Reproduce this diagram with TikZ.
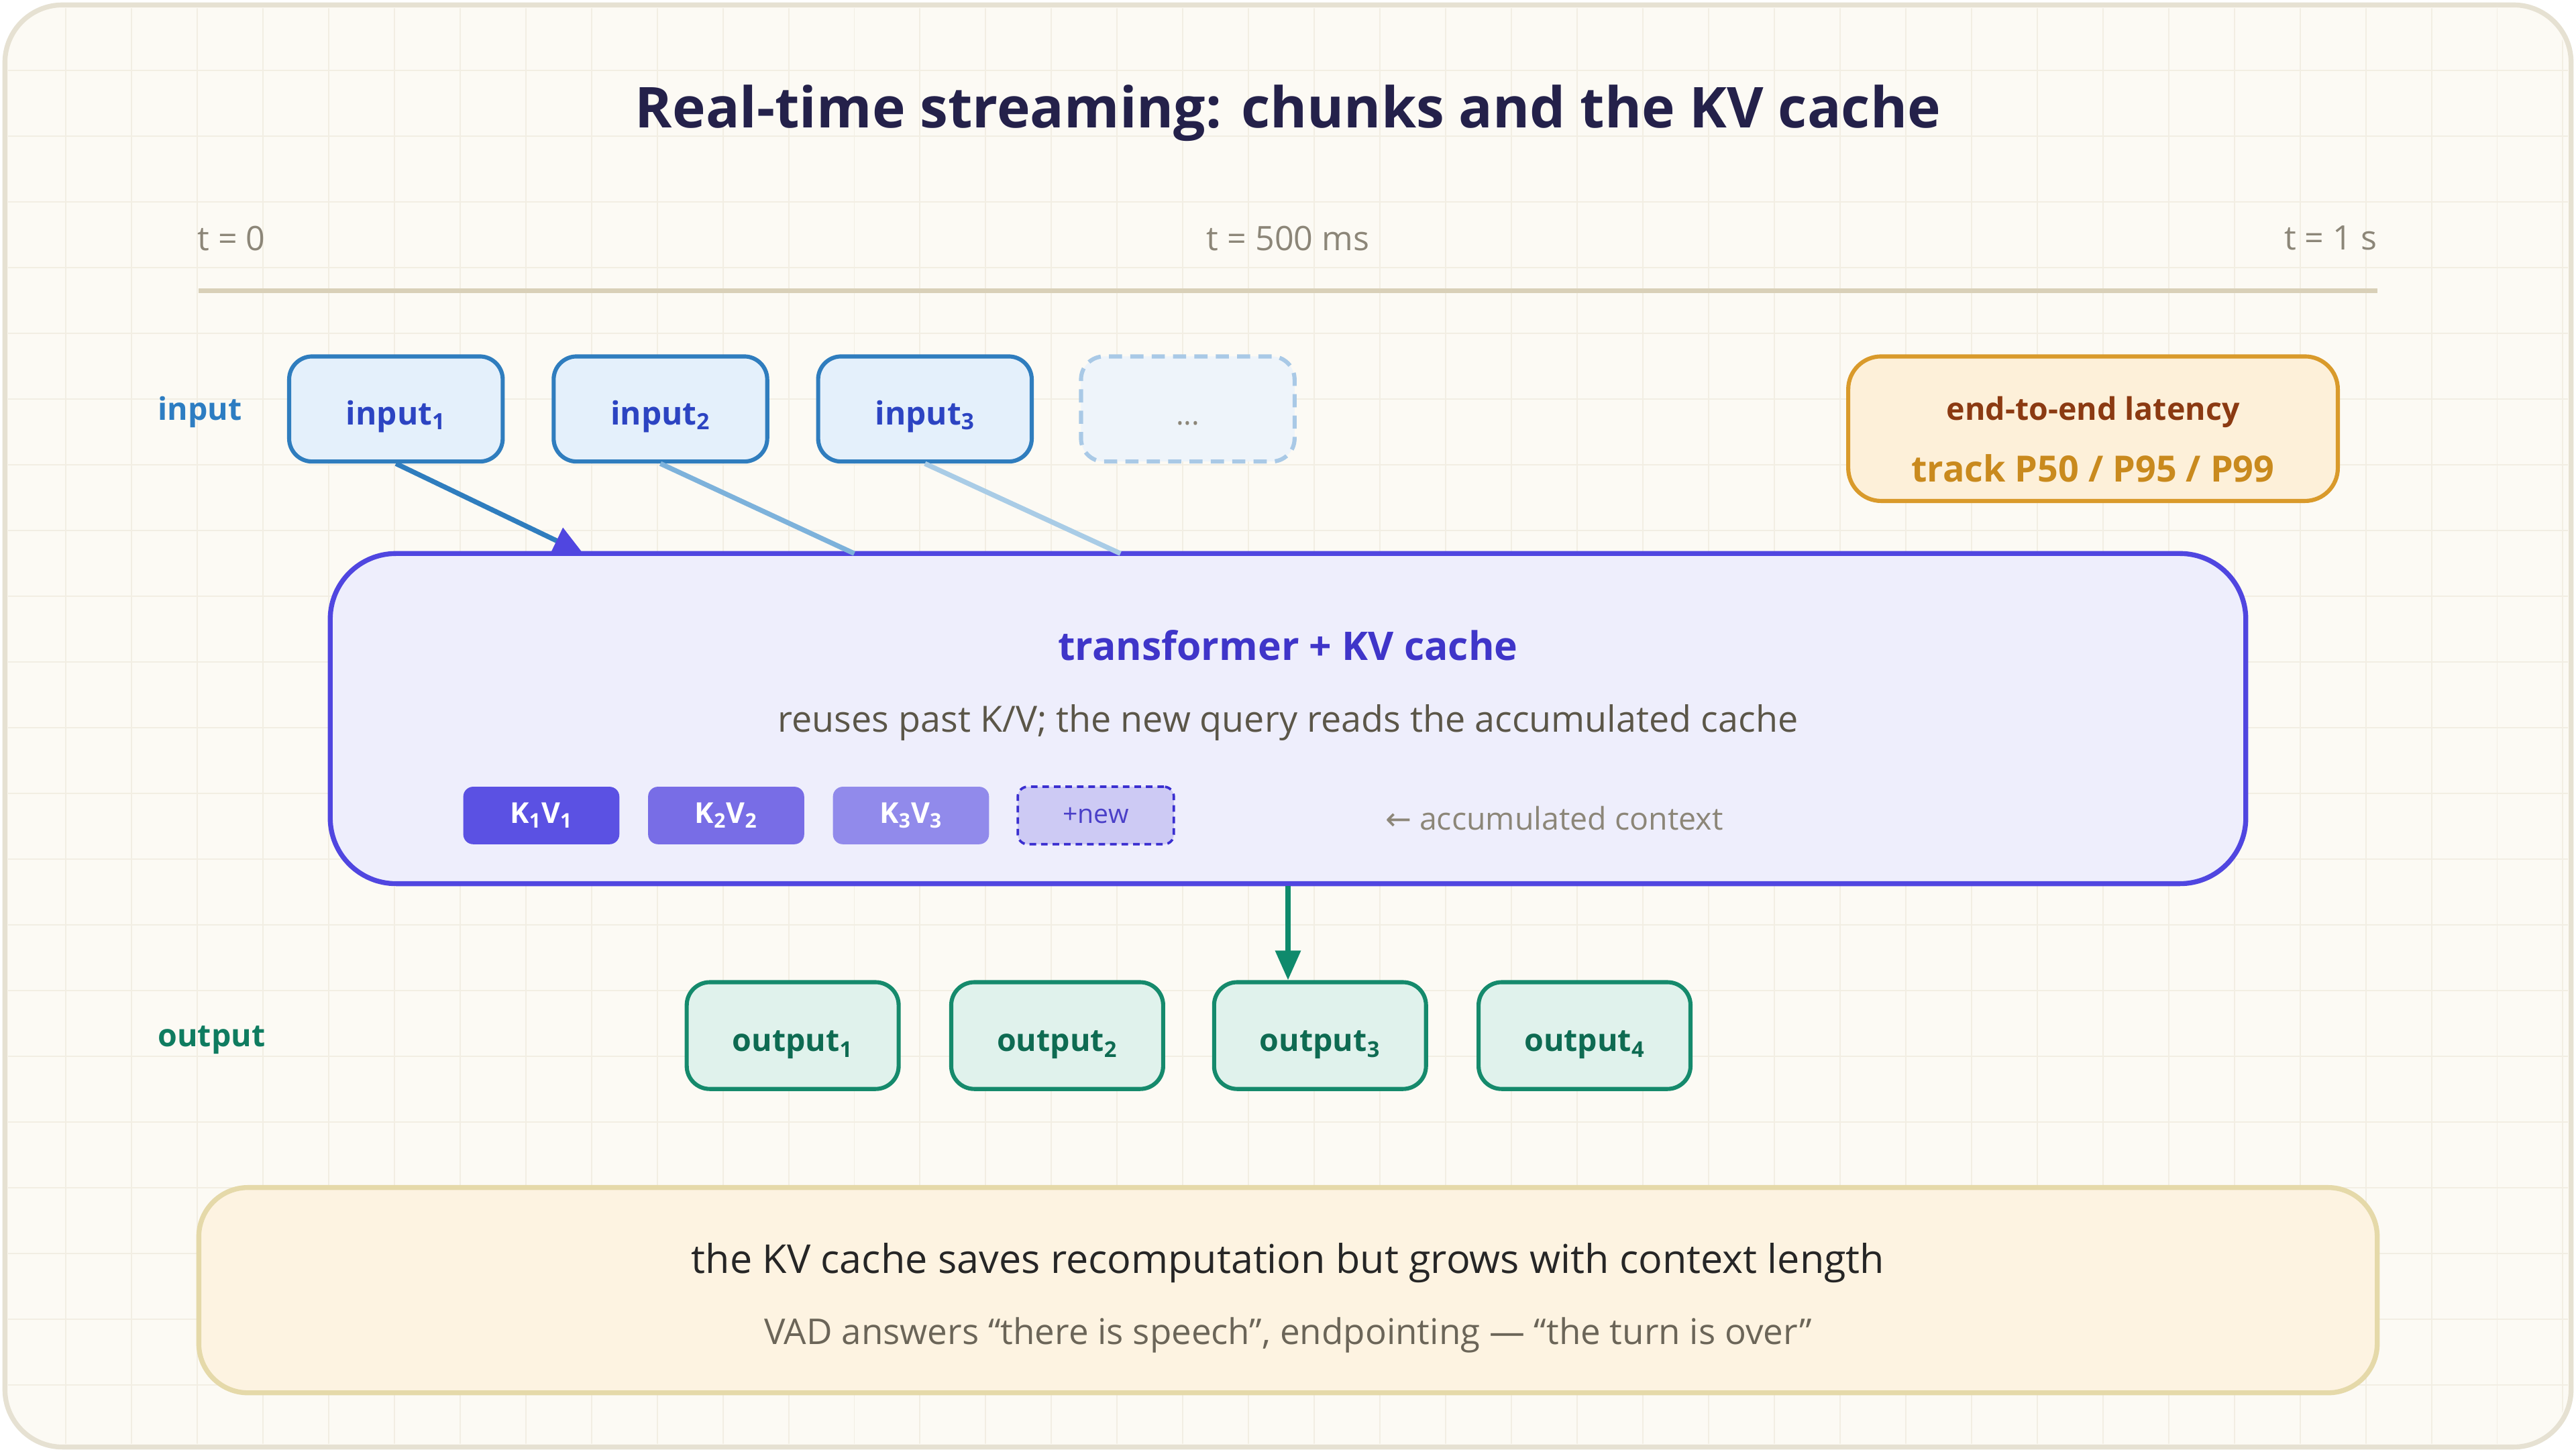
\documentclass[tikz,border=0pt]{standalone}
\usepackage{fontspec}
\setmainfont{Open Sans}
\newfontfamily\arrowfont{DejaVu Sans}
\usetikzlibrary{arrows.meta}
\newcommand\fsz[1]{\fontsize{#1}{#1}\selectfont}
\definecolor{framefill}{HTML}{FCFAF4}
\definecolor{frameline}{HTML}{E6E1D2}
\definecolor{gridline}{HTML}{F2EEE3}
\definecolor{titlecol}{HTML}{24214A}
\definecolor{tgray}{HTML}{8C8678}
\definecolor{timeline}{HTML}{D9D0B8}
\definecolor{inlbl}{HTML}{2D7DC2}
\definecolor{intext}{HTML}{2C44C2}
\definecolor{infill}{HTML}{E4F0FB}
\definecolor{inborder}{HTML}{2F7DBE}
\definecolor{dotsfill}{HTML}{EEF4FA}
\definecolor{dotsborder}{HTML}{A9C9E6}
\definecolor{inline2}{HTML}{7DB2DB}
\definecolor{inline3}{HTML}{A9CCE6}
\definecolor{tffill}{HTML}{EEEEFC}
\definecolor{tfborder}{HTML}{5046E0}
\definecolor{tftitle}{HTML}{3F35C9}
\definecolor{subgray}{HTML}{5B5648}
\definecolor{kvone}{HTML}{5B51E3}
\definecolor{kvtwo}{HTML}{786DE6}
\definecolor{kvthree}{HTML}{918AEB}
\definecolor{newfill}{HTML}{CDCAF4}
\definecolor{newborder}{HTML}{3A2FD0}
\definecolor{newtext}{HTML}{4A3FC8}
\definecolor{outarrow}{HTML}{0F8A6C}
\definecolor{outfill}{HTML}{E0F2EC}
\definecolor{outborder}{HTML}{158A6C}
\definecolor{outtext}{HTML}{0E6B52}
\definecolor{outlbl}{HTML}{0F7C60}
\definecolor{latfill}{HTML}{FDF0D9}
\definecolor{latborder}{HTML}{D99A2B}
\definecolor{latdark}{HTML}{8B3A12}
\definecolor{latmid}{HTML}{C98A1E}
\definecolor{notefill}{HTML}{FDF3E1}
\definecolor{noteborder}{HTML}{E5D9A9}
\definecolor{notedark}{HTML}{262626}
\definecolor{notegray}{HTML}{6B6558}
\begin{document}
\begin{tikzpicture}[x=1pt,y=-1pt,
	txt/.style={inner sep=0pt},
	rowlabel/.style={txt, anchor=west, font=\fsz{19}\bfseries},
	inbox/.style={draw=inborder, fill=infill, line width=2.5pt, rounded corners=14pt, minimum width=130pt, minimum height=64pt, text=intext, text height=19pt, text depth=0pt, font=\fsz{19.5}\bfseries},
	outbox/.style={draw=outborder, fill=outfill, line width=2.5pt, rounded corners=14pt, minimum width=129pt, minimum height=65pt, text=outtext, text height=19pt, text depth=0pt, font=\fsz{19}\bfseries},
	chip/.style={rounded corners=6pt, minimum width=95pt, minimum height=35pt, text=white, font=\fsz{17.5}\bfseries}]
	\useasboundingbox (0,0) rectangle (1568,884);
	\fill[white] (0,0) rectangle (1568,884);
	%Rahmen und Raster
	\draw[fill=framefill, draw=frameline, line width=3pt, rounded corners=35pt] (3,3) rectangle (1565,881);
	\begin{scope}
		\clip[rounded corners=34pt] (5,5) rectangle (1563,879);
		\foreach \x in {40,80,...,1560}
			\draw[gridline, line width=0.8pt] (\x,0) -- (\x,884);
		\foreach \y in {43,83,...,883}
			\draw[gridline, line width=0.8pt] (0,\y) -- (1568,\y);
	\end{scope}
	%Titel
	\node[txt, text=titlecol, font=\fsz{34.3}\bfseries] (title) at (784,69) {Real-time streaming: chunks and the KV cache};
	%Zeitachse
	\node[txt, anchor=west, text=tgray, font=\fsz{20.5}] (t0) at (120,145) {t = 0};
	\node[txt, text=tgray, font=\fsz{20.5}] (t500) at (784,145) {t = 500 ms};
	\node[txt, anchor=east, text=tgray, font=\fsz{20.5}] (t1) at (1447,145) {t = 1 s};
	\draw[timeline, line width=3pt] (121,177) -- (1447,177);
	%Eingaben
	\node[rowlabel, text=inlbl] (inlabel) at (96,251) {input};
	\foreach \i/\x in {1/241,2/402,3/563}
		\node[inbox] (in\i) at (\x,249) {input\textsubscript{\i}};
	\node[inbox, dash pattern=on 8pt off 5pt, draw=dotsborder, fill=dotsfill, text=tgray, font=\fsz{18}] (indots) at (723,249) {...};
	%Latenz
	\node[draw=latborder, fill=latfill, line width=2.5pt, rounded corners=20pt, minimum width=298pt, minimum height=88pt] (lat) at (1274,261) {};
	\node[txt, text=latdark, font=\fsz{19}\bfseries] (latone) at (1274,251) {end-to-end latency};
	\node[txt, text=latmid, font=\fsz{22}\bfseries] (lattwo) at (1274,285) {track P50 / P95 / P99};
	%Transformer
	\node[draw=tfborder, fill=tffill, line width=3pt, rounded corners=40pt, minimum width=1166pt, minimum height=201pt] (tf) at (784,437.5) {};
	\node[txt, text=tftitle, font=\fsz{24}\bfseries] (tftitle) at (784,393) {transformer + KV cache};
	\node[txt, text=subgray, font=\fsz{22}] (tfsub) at (784,440) {reuses past K/V; the new query reads the accumulated cache};
	\foreach \i/\x/\c in {1/329.5/kvone,2/442/kvtwo,3/554.5/kvthree}
		\node[chip, fill=\c] (kv\i) at (\x,496.5) {K\textsubscript{\i}V\textsubscript{\i}};
	\node[chip, fill=newfill, draw=newborder, dash pattern=on 4pt off 3pt, line width=1.5pt, text=newtext, font=\fsz{16}] (kvnew) at (667,496.5) {+new};
	\node[txt, anchor=west, text=tgray, font=\fsz{19}] (acc) at (843,498) {{\arrowfont ←} accumulated context};
	%Pfeile
	\coordinate (hit1) at (355,337);
	\coordinate (hit2) at (520,337);
	\coordinate (hit3) at (682,337);
	\draw[inline3, line width=3pt] (in3.south) -- (hit3);
	\draw[inline2, line width=3pt] (in2.south) -- (hit2);
	\draw[inborder, line width=3pt, -{Triangle[length=18pt,width=17pt,color=tfborder]}] (in1.south) -- (hit1);
	%Ausgaben
	\node[rowlabel, text=outlbl] (outlabel) at (96,633) {output};
	\foreach \i/\x in {1/482.5,2/643.5,3/803.5,4/964.5}
		\node[outbox] (out\i) at (\x,630.5) {output\textsubscript{\i}};
	\draw[outarrow, line width=3pt, -{Triangle[length=18pt,width=15pt]}] (tf.south) -- (tf.south |- out3.north);
	%Hinweis
	\node[draw=noteborder, fill=notefill, line width=3pt, rounded corners=30pt, minimum width=1326pt, minimum height=125pt] (note) at (784,785.5) {};
	\node[txt, text=notedark, font=\fsz{24.2}] (noteone) at (784,769) {the KV cache saves recomputation but grows with context length};
	\node[txt, text=notegray, font=\fsz{21.6}] (notetwo) at (784,813) {VAD answers “there is speech”, endpointing — “the turn is over”};
\end{tikzpicture}
\end{document}
